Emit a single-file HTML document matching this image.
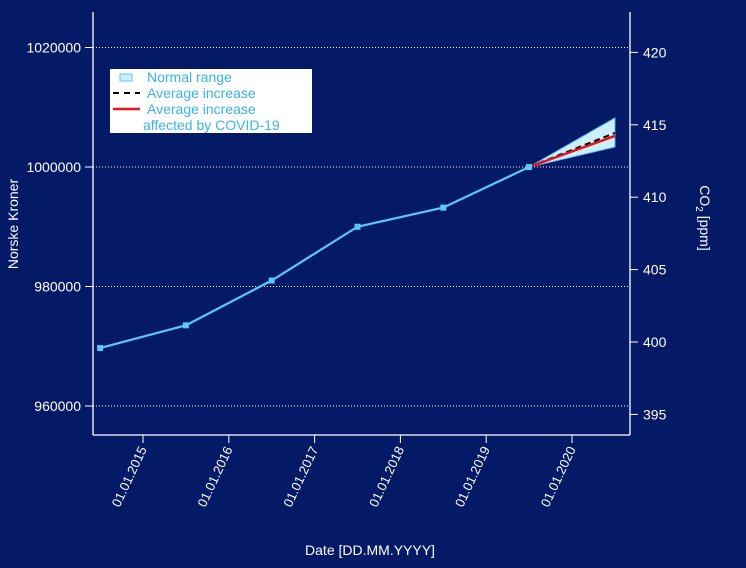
<!DOCTYPE html>
<html><head><meta charset="utf-8">
<style>
html,body{margin:0;padding:0;background:#041a66;}
svg{display:block;font-family:"Liberation Sans",sans-serif;}
</style></head>
<body>
<svg id="chart" width="746" height="568" viewBox="0 0 746 568" xmlns="http://www.w3.org/2000/svg">
<rect width="746" height="568" fill="#041a66"/>
</svg>
<script>
const years = [2014.5, 2015.5, 2016.5, 2017.5, 2018.5, 2019.5];
const values = [969700, 973500, 981000, 990000, 993200, 1000000];
const projYears = [2019.5, 2020.5];
const avgIncrease = [1000000, 1005700];
const covidIncrease = [1000000, 1005200];
const rangeUpper = [1000000, 1008200];
const rangeLower = [1000000, 1003350];
const leftTicks = [960000, 980000, 1000000, 1020000];
const rightTicks = [395, 400, 405, 410, 415, 420];
const xTickYears = [2015, 2016, 2017, 2018, 2019, 2020];
const xTickLabels = ["01.01.2015","01.01.2016","01.01.2017","01.01.2018","01.01.2019","01.01.2020"];

const svg = document.getElementById('chart');
const NS = 'http://www.w3.org/2000/svg';
const L = 93, R = 630, T = 12, B = 435;
const X = yr => 143 + (yr - 2015) * 85.8;
const Y = v => 167 - (v - 1000000) / 20000 * 119.5;
const Y2 = v => 342 - (v - 400) / 5 * 72.4;
function mk(tag, attrs, parent) {
  const e = document.createElementNS(NS, tag);
  for (const k in attrs) e.setAttribute(k, attrs[k]);
  (parent || svg).appendChild(e);
  return e;
}
// grid
leftTicks.forEach(v => {
  const g = mk('line', {x1: L, x2: R, y1: Y(v), y2: Y(v), stroke: '#ffffff', 'stroke-width': 1, 'stroke-dasharray': '1,2'});
  
  
});
// axes
const axL = mk('line', {x1: L, x2: L, y1: T, y2: B, stroke: '#fff', 'stroke-width': 1.3});


const axR = mk('line', {x1: R, x2: R, y1: T, y2: B, stroke: '#fff', 'stroke-width': 1.3});


const axB = mk('line', {x1: L, x2: R, y1: B, y2: B, stroke: '#fff', 'stroke-width': 1.3});


leftTicks.forEach(v => {
  mk('line', {x1: L - 8, x2: L, y1: Y(v), y2: Y(v), stroke: '#fff'});
  const t = mk('text', {x: L - 12, y: Y(v) + 5, fill: '#fff', 'font-size': 14, 'text-anchor': 'end'});
  t.textContent = v;
  
  
});
rightTicks.forEach(v => {
  mk('line', {x1: R, x2: R + 8, y1: Y2(v), y2: Y2(v), stroke: '#fff'});
  const t = mk('text', {x: R + 13, y: Y2(v) + 5, fill: '#fff', 'font-size': 14});
  t.textContent = v;
  
  
});
xTickYears.forEach((yr, i) => {
  const x = X(yr);
  mk('line', {x1: x, x2: x, y1: B, y2: B + 8, stroke: '#fff'});
  const t = mk('text', {x: x + 4, y: B + 14, fill: '#fff', 'font-size': 13, 'text-anchor': 'end', transform: `rotate(-65 ${x + 4} ${B + 14})`});
  t.textContent = xTickLabels[i];
  
  
});
// range
const pts = projYears.map((yr, i) => `${X(yr)},${Y(rangeUpper[i])}`).concat(projYears.map((yr, i) => `${X(yr)},${Y(rangeLower[i])}`).reverse()).join(' ');
const rng = mk('polygon', {points: pts, fill: '#cdeefb', stroke: '#5ac8fa', 'stroke-width': 1});


const avg = mk('polyline', {points: projYears.map((yr, i) => `${X(yr)},${Y(avgIncrease[i])}`).join(' '), fill: 'none', stroke: '#000', 'stroke-width': 2, 'stroke-dasharray': '6,4'});


const cov = mk('polyline', {points: projYears.map((yr, i) => `${X(yr)},${Y(covidIncrease[i])}`).join(' '), fill: 'none', stroke: '#e8141c', 'stroke-width': 2.5});


// main line
const ml = mk('polyline', {points: years.map((yr, i) => `${X(yr)},${Y(values[i])}`).join(' '), fill: 'none', stroke: '#5ac8fa', 'stroke-width': 2.2});


years.forEach((yr, i) => {
  const p = mk('rect', {x: X(yr) - 3, y: Y(values[i]) - 3, width: 6, height: 6, fill: '#5ac8fa'});
  
  
});
// titles
const yt = mk('text', {x: 18, y: 224, fill: '#fff', 'font-size': 14, 'text-anchor': 'middle', transform: 'rotate(-90 18 224)'});
yt.textContent = 'Norske Kroner';


const yt2 = mk('text', {x: 700, y: 218, fill: '#fff', 'font-size': 14, 'text-anchor': 'middle', transform: 'rotate(90 700 218)'});
yt2.innerHTML = 'CO<tspan font-size="10" dy="4">2</tspan><tspan dy="-4"> [ppm]</tspan>';


const xt = mk('text', {x: 370, y: 555, fill: '#fff', 'font-size': 14, 'text-anchor': 'middle'});
xt.textContent = 'Date [DD.MM.YYYY]';


// legend
const lg = mk('g', {});


mk('rect', {x: 110, y: 69, width: 202, height: 64, fill: '#fff'}, lg);
mk('rect', {x: 120, y: 74, width: 12, height: 7, fill: '#cdeefb', stroke: '#5ac8fa'}, lg);
mk('line', {x1: 113, x2: 140, y1: 93, y2: 93, stroke: '#000', 'stroke-width': 2, 'stroke-dasharray': '6,5'}, lg);
mk('line', {x1: 113, x2: 140, y1: 109, y2: 109, stroke: '#e8141c', 'stroke-width': 2.5}, lg);
[['Normal range', 147, 82], ['Average increase', 147, 98], ['Average increase', 147, 114], ['affected by COVID-19', 143, 130]].forEach(([s, x, y]) => {
  const t = mk('text', {x: x, y: y, fill: '#39b4e6', 'font-size': 14}, lg);
  t.textContent = s;
  
  
});
</script>
</body></html>
